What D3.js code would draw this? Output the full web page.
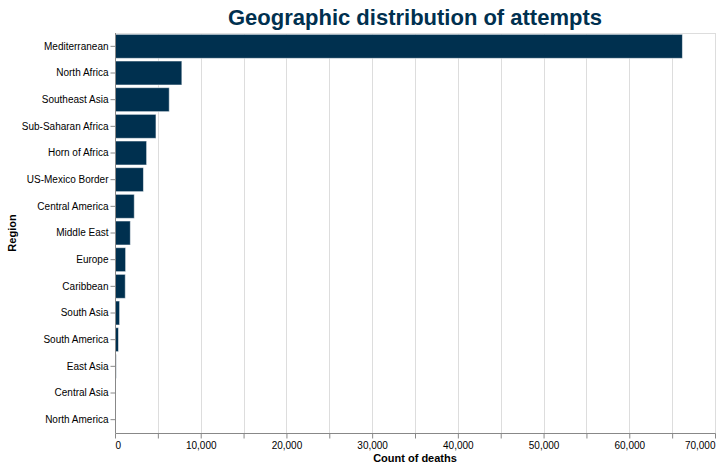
<!DOCTYPE html>
<html>
<head>
<meta charset="utf-8">
<script src="https://cdn.jsdelivr.net/npm/d3@7"></script>
<style>
  body { margin: 0; background: #fff; }
  svg { display: block; font-family: "Liberation Sans", Arial, Helvetica, sans-serif; }
</style>
</head>
<body>
<svg id="chart" width="721" height="469"></svg>
<script>
const regions = ["Mediterranean", "North Africa", "Southeast Asia", "Sub-Saharan Africa", "Horn of Africa",
  "US-Mexico Border", "Central America", "Middle East", "Europe", "Caribbean", "South Asia",
  "South America", "East Asia", "Central Asia", "North America"];
const deaths = [66200, 7800, 6330, 4780, 3690, 3320, 2250, 1790, 1240, 1200, 540, 410, 140, 110, 5];
const xTicks = [0, 5000, 10000, 15000, 20000, 25000, 30000, 35000, 40000, 45000, 50000, 55000, 60000, 65000, 70000];
const titleText = "Geographic distribution of attempts";
const xTitle = "Count of deaths";
const yTitle = "Region";

const data = regions.map((r, i) => ({ region: r, value: deaths[i] }));
const svg = d3.select("#chart");
const margin = { left: 115, top: 33, width: 600, height: 400 };
const navy = "#00304f";

const x = d3.scaleLinear().domain([0, 70000]).range([0, margin.width]);
const y = d3.scaleBand().domain(regions).range([0, margin.height]).paddingInner(0.1).paddingOuter(0.05);

const g = svg.append("g").attr("transform", `translate(${margin.left},${margin.top})`);

// view border
g.append("rect").attr("x", 0.5).attr("y", 0.5).attr("width", margin.width).attr("height", margin.height)
  .attr("fill", "none").attr("stroke", "#ddd");

// grid
g.append("g").selectAll("line").data(xTicks).join("line")
  .attr("x1", d => Math.round(x(d)) + 0.5).attr("x2", d => Math.round(x(d)) + 0.5)
  .attr("y1", 0).attr("y2", margin.height)
  .attr("stroke", "#ddd");

// bars
g.append("g").selectAll("rect").data(data).join("rect")
  .attr("x", x(0))
  .attr("y", d => y(d.region))
  .attr("width", d => x(d.value) - x(0))
  .attr("height", y.bandwidth())
  .attr("fill", navy)
  .attr("stroke", "#fff")
  .attr("stroke-opacity", 0.55)
  .attr("stroke-width", 1);

// x axis
const xAxis = d3.axisBottom(x).tickValues(xTicks)
  .tickFormat(d => d % 10000 === 0 ? d3.format(",")(d) : "")
  .tickSize(5).tickPadding(3);
const xg = g.append("g").attr("transform", `translate(0,${margin.height + 0.5})`).call(xAxis);
xg.select(".domain").attr("stroke", "#888").attr("d", `M0.5,0H${margin.width + 0.5}`);
xg.selectAll(".tick line").attr("stroke", "#888");
xg.selectAll(".tick text").attr("font-size", 10).attr("fill", "#000")
  .attr("font-family", "Liberation Sans, Arial, sans-serif")
  .attr("text-anchor", (d, i, n) => i === 0 ? "start" : (i === n.length - 1 ? "end" : "middle"));

// y axis
const yAxis = d3.axisLeft(y).tickSize(5).tickPadding(2);
const yg = g.append("g").attr("transform", "translate(0.5,0)").call(yAxis);
yg.select(".domain").attr("stroke", "#888").attr("d", `M0,0V${margin.height}`);
yg.selectAll(".tick line").attr("stroke", "#888");
yg.selectAll(".tick text").attr("font-size", 10).attr("fill", "#000")
  .attr("font-family", "Liberation Sans, Arial, sans-serif");

// titles
svg.append("text").attr("x", margin.left + margin.width / 2).attr("y", 25)
  .attr("text-anchor", "middle").attr("font-size", 22).attr("font-weight", "bold")
  .attr("fill", navy).text(titleText);
svg.append("text").attr("x", margin.left + margin.width / 2).attr("y", 462)
  .attr("text-anchor", "middle").attr("font-size", 11).attr("font-weight", "bold")
  .attr("fill", "#000").text(xTitle);
svg.append("text").attr("transform", `translate(16,${margin.top + margin.height / 2}) rotate(-90)`)
  .attr("text-anchor", "middle").attr("font-size", 11).attr("font-weight", "bold")
  .attr("fill", "#000").text(yTitle);
</script>
</body>
</html>
